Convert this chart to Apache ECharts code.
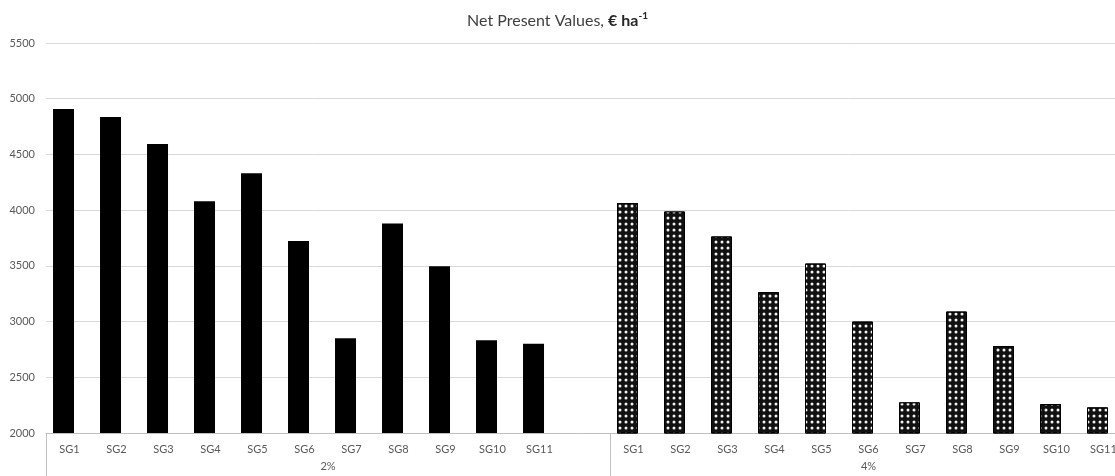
<!DOCTYPE html>
<html>
<head>
    <meta charset="utf-8" />
    <title>Net Present Values</title>
    <script src="https://cdn.jsdelivr.net/npm/echarts@6/dist/echarts.min.js"></script>
    <style>
        html, body { margin: 0; padding: 0; background: #fff; }
        #npv { width: 1115px; height: 476px; }
    </style>
</head>
<body>
    <div id="npv"></div>
    <script type="text/javascript">
        // category names (same in both groups)
        const groups = ['SG1', 'SG2', 'SG3', 'SG4', 'SG5', 'SG6', 'SG7', 'SG8', 'SG9', 'SG10', 'SG11'];
        // discount rate groups
        const rateLabels = ['2%', '4%'];
        // NPV values, € ha-1
        const npv2 = [4907, 4835, 4593, 4079, 4332, 3722, 2850, 3881, 3497, 2833, 2800];
        const npv4 = [4064, 3988, 3764, 3264, 3521, 3000, 2275, 3090, 2780, 2260, 2230];
        // y axis ticks
        const yMin = 2000, yMax = 5500, yStep = 500;

        // 2% block has one empty slot at the end, then 4% block
        const blank = [''];
        const xCats = groups.concat(blank, groups);
        const nulls = n => new Array(n).fill(null);
        const data2 = npv2.concat(nulls(1 + groups.length));
        const data4 = nulls(groups.length + 1).concat(npv4);
        const firstLen = groups.length + 1;
        const total = xCats.length;

        const font = 'Lato, "Open Sans", sans-serif';
        const chart = echarts.init(document.getElementById('npv'));
        const option = {
            animation: false,
            backgroundColor: '#fff',
            title: {
                text: '{n|Net Present Values, }{b|€ ha}{s|-1}',
                left: 'center',
                top: 6,
                textStyle: {
                    fontWeight: 'normal',
                    rich: {
                        n: { fontFamily: font, fontSize: 16, color: '#404040', fontWeight: 'normal' },
                        b: { fontFamily: font, fontSize: 16, color: '#262626', fontWeight: 'bold' },
                        s: { fontFamily: font, fontSize: 10, color: '#262626', fontWeight: 'bold', padding: [0, 0, 9, 0] }
                    }
                }
            },
            // the chart runs a little past the right edge, as in the original
            grid: { left: 46, top: 43, width: 1081, height: 390, outerBoundsMode: 'none' },
            xAxis: [{
                type: 'category',
                data: xCats,
                boundaryGap: true,
                axisLine: { lineStyle: { color: '#bfbfbf', width: 1 } },
                axisTick: { show: false },
                axisLabel: { interval: 0, margin: 11, fontFamily: font, fontSize: 11, color: '#595959' }
            }, {
                type: 'value',
                position: 'bottom',
                min: 0,
                max: total,
                axisLine: { show: false },
                splitLine: { show: false },
                axisTick: {
                    show: true,
                    customValues: [0, firstLen, total],
                    length: 43,
                    lineStyle: { color: '#bfbfbf', width: 1 }
                },
                axisLabel: {
                    customValues: [firstLen / 2, firstLen + groups.length / 2],
                    margin: 28,
                    fontFamily: font,
                    fontSize: 11,
                    color: '#595959',
                    formatter: v => (v < firstLen ? rateLabels[0] : rateLabels[1])
                }
            }],
            yAxis: {
                type: 'value',
                min: yMin,
                max: yMax,
                interval: yStep,
                axisLine: { show: false },
                axisTick: { show: false },
                axisLabel: { margin: 11, fontFamily: font, fontSize: 11, color: '#595959', formatter: v => String(v) },
                splitLine: { lineStyle: { color: '#d9d9d9', width: 1 } }
            },
            series: [{
                name: rateLabels[0],
                type: 'bar',
                stack: 'npv',
                barWidth: 21,
                barGap: '-43%',
                data: data2,
                itemStyle: { color: '#000' }
            }, {
                name: rateLabels[1],
                type: 'bar',
                stack: 'npv',
                barWidth: 21,
                barGap: '-43%',
                data: data4,
                itemStyle: {
                    color: '#111',
                    borderColor: '#000',
                    borderWidth: 1,
                    decal: {
                        symbol: 'circle',
                        symbolSize: 0.75,
                        color: '#f2f2f2',
                        dashArrayX: [4, 2],
                        dashArrayY: [4, 2],
                        rotation: 0
                    }
                }
            }, {
                // empty second slot, as in the original layout
                name: 'spacer',
                type: 'bar',
                barWidth: 21,
                barGap: '-43%',
                data: nulls(total)
            }]
        };
        chart.setOption(option);
    </script>
</body>
</html>
